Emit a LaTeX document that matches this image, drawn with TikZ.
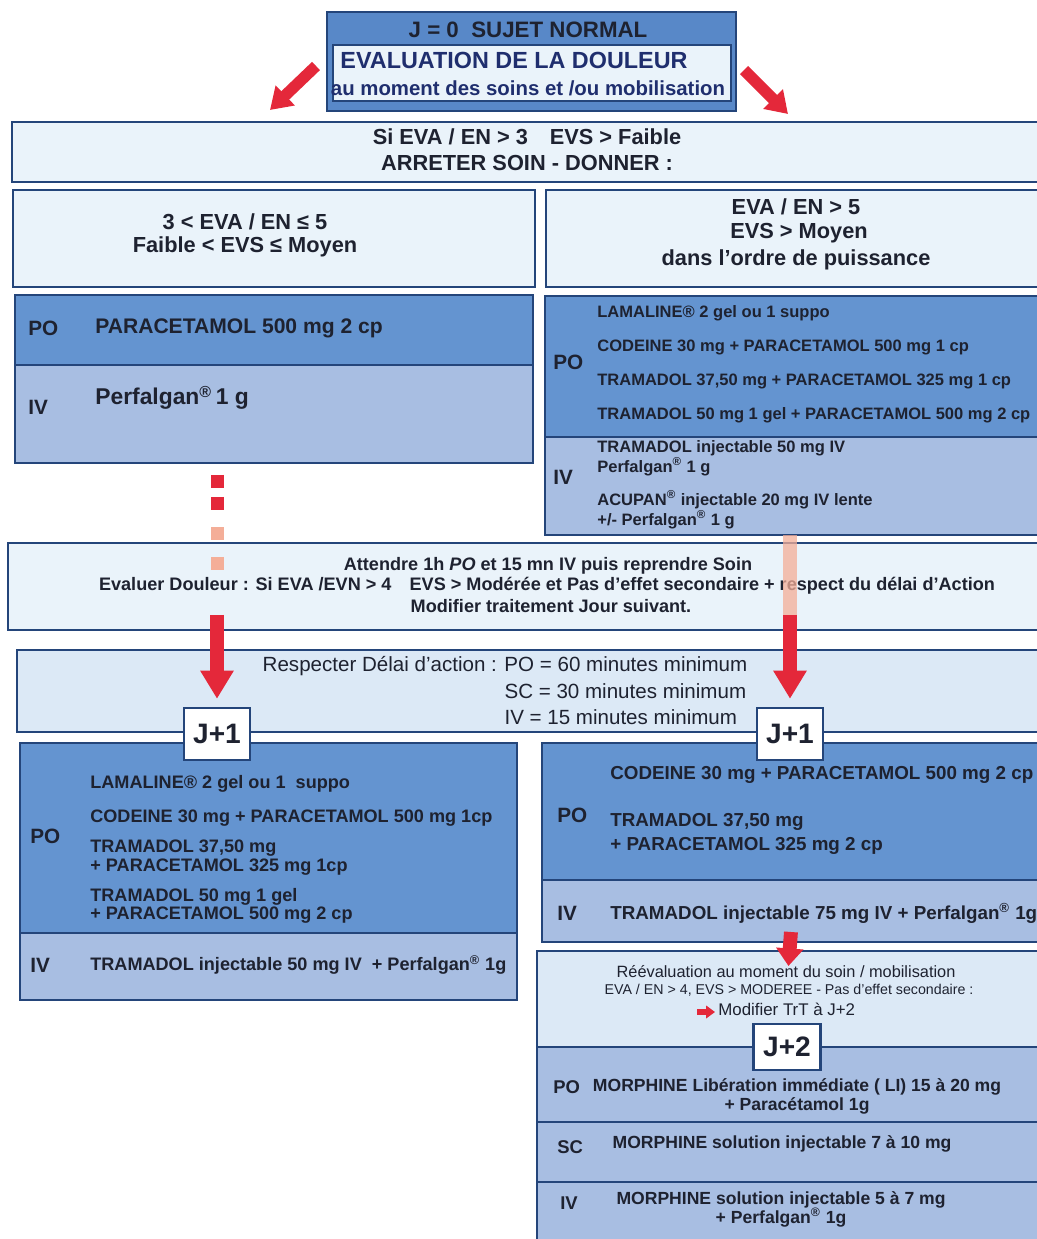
\documentclass[tikz,border=0pt]{standalone}
\usepackage{fontspec}
\setmainfont{Liberation Sans}
\usetikzlibrary{arrows.meta,positioning}

\definecolor{navy}{HTML}{24457A}
\definecolor{ink}{HTML}{1E2230}
\definecolor{inkblue}{HTML}{1F2E6E}
\definecolor{topblue}{HTML}{5888C8}
\definecolor{pomid}{HTML}{6494D0}
\definecolor{ivlight}{HTML}{A8BEE2}
\definecolor{paleblue}{HTML}{EAF3FA}
\definecolor{softblue}{HTML}{DCE9F6}
\definecolor{arrowred}{HTML}{E4283A}
\definecolor{salmon}{HTML}{F4AE98}

\newcommand\fsz[2]{\fontsize{#1pt}{#2pt}\selectfont}

\begin{document}
\begin{tikzpicture}[x=0.02cm,y=-0.02cm,
  box/.style={draw=navy,line width=1.1pt,anchor=north west,inner sep=0pt,outer sep=0pt},
  pale/.style={box,fill=paleblue},
  soft/.style={box,fill=softblue},
  pofill/.style={box,fill=pomid},
  ivfill/.style={box,fill=ivlight},
  lbl/.style={anchor=west,inner sep=0pt,text=ink,align=left},
  ctr/.style={inner sep=0pt,text=ink,align=center},
  day/.style={draw=navy,line width=1.4pt,fill=white,inner sep=0pt,minimum width=1.32cm,minimum height=1.04cm,text=ink,font=\fsz{16}{18}\bfseries},
  bigarrow/.style={arrowred,line width=7.9pt,-{Triangle[width=18pt,length=16pt]}},
  tiltarrow/.style={arrowred,line width=6.5pt,-{Triangle[width=15pt,length=12pt]}},
  smallarrow/.style={arrowred,line width=7.9pt,-{Triangle[width=15pt,length=10pt]}},
  tinyarrow/.style={arrowred,line width=3pt,-{Triangle[width=7pt,length=5pt]}},
]
\useasboundingbox[fill=white] (0,0) rectangle (1036,1239);

% J = 0
\node[box,fill=topblue,minimum width=8.18cm,minimum height=1.98cm] (top) at (327,12) {};
\node[pale,minimum width=7.96cm,minimum height=1.12cm] (topin) at (333,45) {};
\node[ctr,font=\fsz{12.7}{14}\bfseries] (t0) at (528,30) {J = 0\ \ SUJET NORMAL};
\node[ctr,text=inkblue,font=\fsz{13.3}{15}\bfseries] (t0b) at (514,60) {EVALUATION DE LA DOULEUR};
\node[ctr,text=inkblue,font=\fsz{11.6}{13}\bfseries] (t0c) at (528,88) {au moment des soins et /ou mobilisation};
\coordinate (aL0) at (316,66);
\coordinate (aL1) at (270,110);
\coordinate (aR0) at (744,70);
\coordinate (aR1) at (788,114);
\draw[tiltarrow] (aL0) -- (aL1);
\draw[tiltarrow] (aR0) -- (aR1);

% seuil
\node[pale,minimum width=20.56cm,minimum height=1.2cm] (si) at (12,122) {};
\node[ctr,font=\fsz{12.4}{14}\bfseries] (siA) at (527,137) {Si EVA / EN > 3\quad EVS > Faible};
\node[ctr,font=\fsz{12.4}{14}\bfseries] (siB) at (527,163) {ARRETER SOIN - DONNER :};

\node[pale,minimum width=10.44cm,minimum height=1.94cm] (critL) at (13,190) {};
\node[pale,minimum width=9.88cm,minimum height=1.94cm] (critR) at (546,190) {};
\node[ctr,font=\fsz{12.4}{14}\bfseries] (cL1) at (245,222) {3 < EVA / EN ≤ 5};
\node[ctr,font=\fsz{12.4}{14}\bfseries] (cL2) at (245,247) {Faible < EVS ≤ Moyen};
\node[ctr,font=\fsz{12.4}{14}\bfseries] (cR1) at (796,207) {EVA / EN > 5};
\node[ctr,font=\fsz{12.4}{14}\bfseries] (cR2) at (799,233) {EVS > Moyen};
\node[ctr,font=\fsz{12.4}{14}\bfseries] (cR3) at (796,260) {dans l'ordre de puissance};

% traitement J0
\node[pofill,minimum width=10.36cm,minimum height=1.4cm] (treatLpo) at (15,295) {};
\node[ivfill,minimum width=10.36cm,minimum height=1.96cm] (treatLiv) at (15,365) {};
\node[lbl,font=\fsz{11.8}{14}\bfseries] (pL) at (28,328) {PO};
\node[lbl,font=\fsz{12}{14}\bfseries] (pL1) at (95,328) {PARACETAMOL 500 mg 2 cp};
\node[lbl,font=\fsz{11.8}{14}\bfseries] (iL) at (28,407) {IV};
\node[lbl,font=\fsz{13}{15}\bfseries] (iL1) at (95,398) {Perfalgan\textsuperscript{®}\,1 g};

\node[pofill,minimum width=9.9cm,minimum height=2.82cm] (treatRpo) at (545,296) {};
\node[ivfill,minimum width=9.9cm,minimum height=1.96cm] (treatRiv) at (545,437) {};
\node[lbl,font=\fsz{11.8}{14}\bfseries] (pR) at (553,362) {PO};
\node[lbl,font=\fsz{9.4}{11}\bfseries] (pR1) at (597,313) {LAMALINE® 2 gel ou 1 suppo};
\node[lbl,font=\fsz{9.4}{11}\bfseries] (pR2) at (597,347) {CODEINE 30 mg + PARACETAMOL 500 mg 1 cp};
\node[lbl,font=\fsz{9.4}{11}\bfseries] (pR3) at (597,381) {TRAMADOL 37,50 mg + PARACETAMOL 325 mg 1 cp};
\node[lbl,font=\fsz{9.4}{11}\bfseries] (pR4) at (597,415) {TRAMADOL 50 mg 1 gel + PARACETAMOL 500 mg 2 cp};
\node[lbl,font=\fsz{11.8}{14}\bfseries] (iR) at (553,477) {IV};
\node[lbl,font=\fsz{9.4}{8.6}\bfseries] (iR1) at (597,458) {TRAMADOL injectable 50 mg IV\\Perfalgan\textsuperscript{®} 1 g};
\node[lbl,font=\fsz{9.4}{8.6}\bfseries] (iR2) at (597,510) {ACUPAN\textsuperscript{®} injectable 20 mg IV lente\\+/- Perfalgan\textsuperscript{®} 1 g};

% attente et delai
\node[pale,minimum width=20.64cm,minimum height=1.74cm] (wait) at (8,543) {};
\node[ctr,font=\fsz{10.3}{12}\bfseries] (w1) at (548,566) {Attendre 1h \textit{PO} et 15 mn IV puis reprendre Soin};
\node[ctr,font=\fsz{10.3}{12}\bfseries] (w2) at (547,586) {Evaluer Douleur : Si EVA /EVN > 4\quad EVS > Modérée et Pas d'effet secondaire + respect du délai d'Action};
\node[ctr,font=\fsz{10.3}{12}\bfseries] (w3) at (551,606) {Modifier traitement Jour suivant.};

\node[soft,minimum width=20.46cm,minimum height=1.64cm] (delay) at (17,650) {};
\node[ctr,font=\fsz{11.7}{15}] (delayTxt) at (505,693) {\begin{tabular}{@{}r@{ }l@{}}Respecter Délai d'action : & PO = 60 minutes minimum\\ & SC = 30 minutes minimum\\ & IV = 15 minutes minimum\end{tabular}};

% J+1
\node[pofill,minimum width=9.94cm,minimum height=3.8cm] (dayLpo) at (20,743) {};
\node[ivfill,minimum width=9.94cm,minimum height=1.34cm] (dayLiv) at (20,933) {};
\node[lbl,font=\fsz{11.8}{14}\bfseries] (qL) at (30,836) {PO};
\node[lbl,font=\fsz{10.3}{12}\bfseries] (qL1) at (90,784) {LAMALINE® 2 gel ou 1\ \ suppo};
\node[lbl,font=\fsz{10.3}{12}\bfseries] (qL2) at (90,818) {CODEINE 30 mg + PARACETAMOL 500 mg 1cp};
\node[lbl,font=\fsz{10.3}{10.8}\bfseries] (qL3) at (90,858) {TRAMADOL 37,50 mg\\+ PARACETAMOL 325 mg 1cp};
\node[lbl,font=\fsz{10.3}{9}\bfseries] (qL4) at (90,906) {TRAMADOL 50 mg 1 gel\\+ PARACETAMOL 500 mg 2 cp};
\node[lbl,font=\fsz{11.8}{14}\bfseries] (jvL) at (30,965) {IV};
\node[lbl,font=\fsz{10.3}{12}\bfseries] (jvL1) at (90,965) {TRAMADOL injectable 50 mg IV\ \ + Perfalgan\textsuperscript{®} 1g};

\node[pofill,minimum width=9.96cm,minimum height=2.74cm] (dayRpo) at (542,743) {};
\node[ivfill,minimum width=9.96cm,minimum height=1.24cm] (dayRiv) at (542,880) {};
\node[lbl,font=\fsz{11.8}{14}\bfseries] (qR) at (557,815) {PO};
\node[lbl,font=\fsz{10.7}{12}\bfseries] (qR1) at (610,775) {CODEINE 30 mg + PARACETAMOL 500 mg 2 cp};
\node[lbl,font=\fsz{10.7}{13.6}\bfseries] (qR2) at (610,834) {TRAMADOL 37,50 mg\\+ PARACETAMOL 325 mg 2 cp};
\node[lbl,font=\fsz{11.8}{14}\bfseries] (jvR) at (557,913) {IV};
\node[lbl,font=\fsz{10.7}{12}\bfseries] (jvR1) at (610,913) {TRAMADOL injectable 75 mg IV + Perfalgan\textsuperscript{®} 1g};

% J+2
\node[soft,minimum width=10.06cm,minimum height=1.92cm] (reeval) at (537,951) {};
\node[ivfill,minimum width=10.06cm,minimum height=1.5cm] (morPO) at (537,1047) {};
\node[ivfill,minimum width=10.06cm,minimum height=1.2cm] (morSC) at (537,1122) {};
\node[ivfill,minimum width=10.06cm,minimum height=1.2cm] (morIV) at (537,1182) {};
\node[ctr,font=\fsz{9.3}{11}] (re1) at (786,972) {Réévaluation au moment du soin / mobilisation};
\node[ctr,font=\fsz{8.1}{9}] (re2) at (789,990) {EVA / EN > 4, EVS > MODEREE - Pas d'effet secondaire :};
\node[lbl,font=\fsz{9.6}{11}] (re3) at (718,1009) {Modifier TrT à J+2};
\node[lbl,font=\fsz{10.5}{12}\bfseries] (mP) at (553,1087) {PO};
\node[ctr,font=\fsz{10}{10.8}\bfseries] (mP1) at (797,1096) {MORPHINE Libération immédiate ( LI) 15 à 20 mg\\+ Paracétamol 1g};
\node[lbl,font=\fsz{10.5}{12}\bfseries] (mS) at (557,1147) {SC};
\node[ctr,font=\fsz{10}{12}\bfseries] (mS1) at (782,1144) {MORPHINE solution injectable 7 à 10 mg};
\node[lbl,font=\fsz{10.5}{12}\bfseries] (mI) at (560,1203) {IV};
\node[ctr,font=\fsz{10}{10.8}\bfseries] (mI1) at (781,1209) {MORPHINE solution injectable 5 à 7 mg\\+ Perfalgan\textsuperscript{®} 1g};

\node[day] (jL) at (217,734) {J+1};
\node[day] (jR) at (790,734) {J+1};
\node[day,minimum width=1.34cm,minimum height=0.92cm] (j2) at (787,1047) {J+2};

% fleches
\draw[arrowred,line width=7.4pt,dash pattern=on 7.4pt off 5.1pt] (treatLiv.south -| jL) ++(0,12) -- ++(0,35);
\draw[salmon,line width=7.4pt,dash pattern=on 7.4pt off 9.6pt] (wait.north -| jL) ++(0,-16) -- ++(0,43);
\draw[bigarrow] ([yshift=0.3cm]wait.south -| jL) -- ([yshift=0.16cm]jL.north);
\draw[salmon,opacity=0.75,line width=7.9pt] (treatRiv.south -| jR) -- ([yshift=0.3cm]wait.south -| jR);
\draw[bigarrow] ([yshift=0.3cm]wait.south -| jR) -- ([yshift=0.16cm]jR.north);
\draw[smallarrow] ([yshift=0.2cm]dayRiv.south) -- ([yshift=-0.3cm]reeval.north);
\draw[tinyarrow] ([xshift=-0.42cm,yshift=-0.06cm]re3.west) -- ([xshift=-0.06cm,yshift=-0.06cm]re3.west);
\end{tikzpicture}
\end{document}
